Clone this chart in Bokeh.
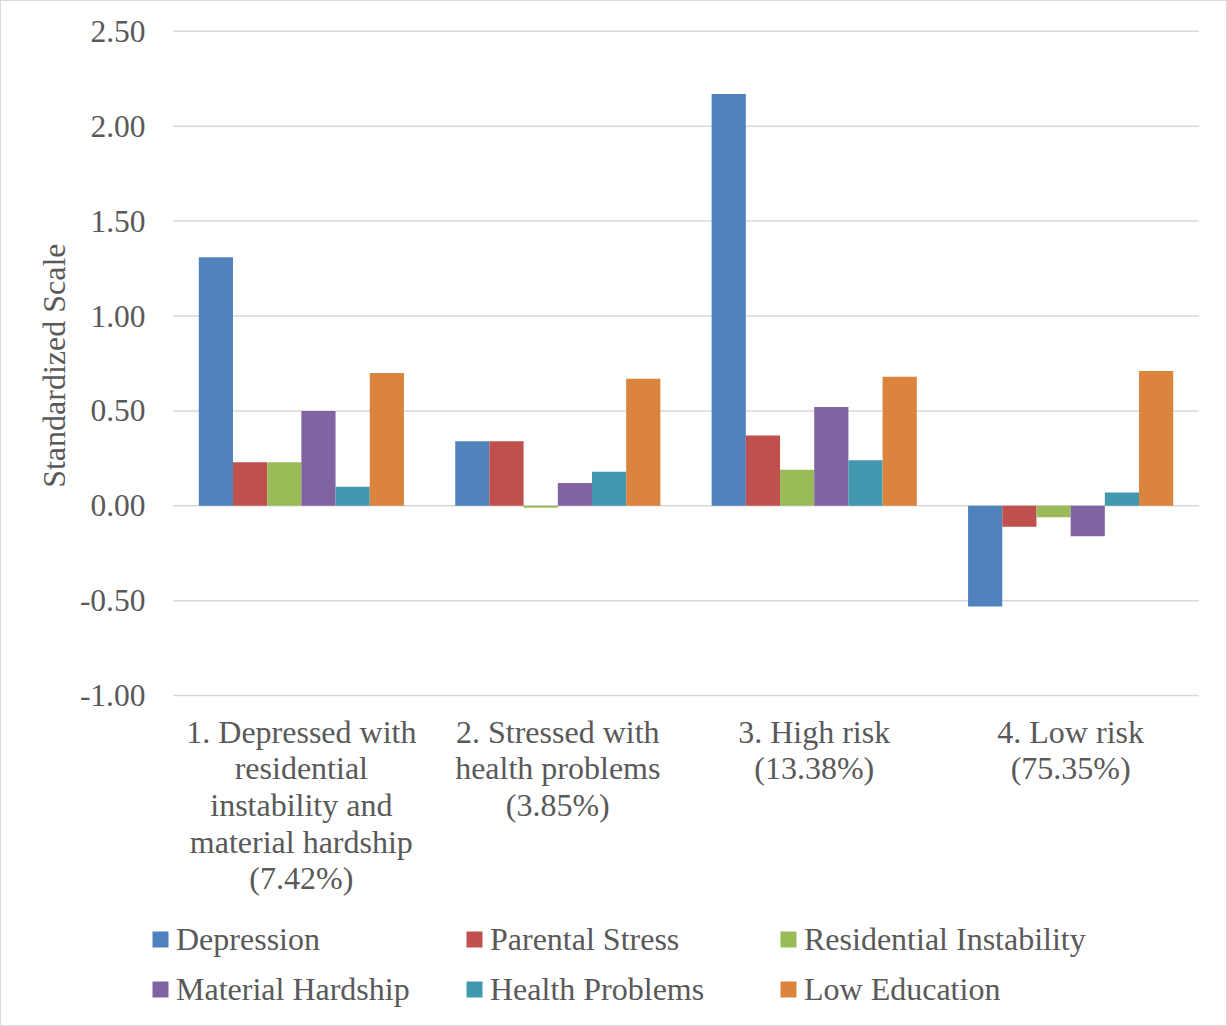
from bokeh.plotting import figure
from bokeh.models import (ColumnDataSource, FactorRange, Range1d, FixedTicker,
                          Legend, LegendItem, NumeralTickFormatter, Title)
from bokeh.core.properties import value
from bokeh.transform import dodge
from bokeh.embed import file_html
from bokeh.resources import INLINE

# Latent profile clusters (x categories, multi-line labels)
clusters = [
    "1. Depressed with\nresidential\ninstability and\nmaterial hardship\n(7.42%)",
    "2. Stressed with\nhealth problems\n(3.85%)",
    "3. High risk\n(13.38%)",
    "4. Low risk\n(75.35%)",
]

# Indicator series (standardized means)
series_names = ["Depression", "Parental Stress", "Residential Instability",
                "Material Hardship", "Health Problems", "Low Education"]
depression = [1.31, 0.34, 2.17, -0.53]
parental_stress = [0.23, 0.34, 0.37, -0.11]
residential_instability = [0.23, -0.01, 0.19, -0.06]
material_hardship = [0.50, 0.12, 0.52, -0.16]
health_problems = [0.10, 0.18, 0.24, 0.07]
low_education = [0.70, 0.67, 0.68, 0.71]

y_ticks = [-1.0, -0.5, 0.0, 0.5, 1.0, 1.5, 2.0, 2.5]
y_title = "Standardized Scale"

series_values = [depression, parental_stress, residential_instability,
                 material_hardship, health_problems, low_education]
colors = ["#4F81BD", "#C0504D", "#9BBB59", "#8064A2", "#4198AF", "#DB843D"]

FONT = "Liberation Serif"
TEXT = "#595959"
GRID = "#D9D9D9"

source = ColumnDataSource(dict(cluster=clusters,
                               **{f"s{i}": v for i, v in enumerate(series_values)}))

# The frame runs down to the bottom edge so the category captions and the
# legend can sit beneath the value axis range.
p = figure(width=1227, height=1026, output_backend="svg", toolbar_location=None,
           x_range=FactorRange(factors=clusters, range_padding=0.1,
                               range_padding_units="absolute"),
           y_range=Range1d(-2.7485, 2.52),
           min_border_left=146, min_border_right=4,
           min_border_top=26, min_border_bottom=0)
p.outline_line_color = None
p.background_fill_color = "white"
p.border_fill_color = "white"
p.styles = {"border": "1px solid #D9D9D9", "box-sizing": "border-box"}
p.xaxis.visible = False
p.xgrid.grid_line_color = None
p.ygrid.grid_line_color = None

# horizontal gridlines spanning the category band only
n = len(clusters)
p.segment(x0=[0] * len(y_ticks), x1=[n] * len(y_ticks), y0=y_ticks, y1=y_ticks,
          line_color=GRID, line_width=1.5)

bar_w = 1 / 7.5
renderers = []
for i, (name, col) in enumerate(zip(series_names, colors)):
    r = p.vbar(x=dodge("cluster", (i - 2.5) * bar_w, range=p.x_range),
               top=f"s{i}", bottom=0, width=bar_w, source=source,
               fill_color=col, line_color=None)
    renderers.append(r)

# category captions under the lowest gridline
p.text(x=clusters, y=[y_ticks[0]] * n, text=clusters,
       text_align="center", text_baseline="top", y_offset=18,
       text_font=value(FONT), text_font_size="32px", text_color=TEXT,
       text_line_height=1.02)

# y axis
p.yaxis.ticker = FixedTicker(ticks=y_ticks)
p.yaxis.formatter = NumeralTickFormatter(format="0.00")
p.yaxis.axis_line_color = None
p.yaxis.major_tick_line_color = None
p.yaxis.minor_tick_line_color = None
p.yaxis.major_tick_out = 0
p.yaxis.major_tick_in = 0
p.yaxis.major_label_standoff = 2
p.yaxis.major_label_text_font = FONT
p.yaxis.major_label_text_font_size = "31.5px"
p.yaxis.major_label_text_color = TEXT

# value-axis title, anchored from the top so it centres on the gridline band
title = Title(text=y_title, align="right", offset=216, standoff=10,
              text_font=FONT, text_font_size="32px", text_font_style="normal",
              text_color=TEXT)
p.add_layout(title, "left")

# legend, two rows of three
items = [LegendItem(label=nm, renderers=[r]) for nm, r in zip(series_names, renderers)]
legend = Legend(items=items, orientation="horizontal", ncols=3,
                location=(3, 13),
                glyph_width=20, glyph_height=20, label_standoff=6,
                label_width=288, label_height=50, spacing=0,
                padding=0, margin=0,
                border_line_color=None, background_fill_alpha=0,
                label_text_font=FONT, label_text_font_size="32px",
                label_text_color=TEXT)
p.add_layout(legend)

open("out.html", "w").write(file_html(p, INLINE))
